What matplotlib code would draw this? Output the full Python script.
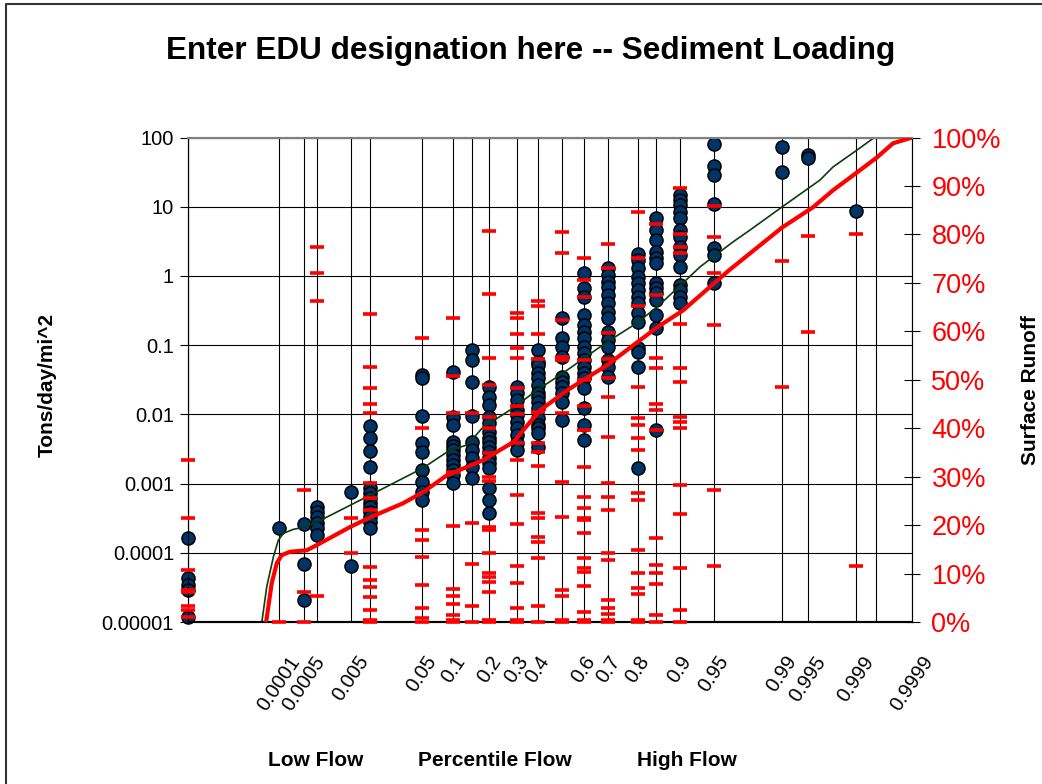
import matplotlib
matplotlib.use('Agg')
import numpy as np
import matplotlib.pyplot as plt
from matplotlib.lines import Line2D

plt.rcParams['font.family'] = ['Liberation Sans', 'DejaVu Sans']

# x positions are plotting positions (normal-score like units)
x_min = -4.156
x_max = 3.889
col_x = [-4.156, -3.144, -2.867, -2.722, -2.344, -2.133, -1.556, -1.211, -1.0, -0.811,
         -0.5, -0.267, 0.0, 0.244, 0.511, 0.844, 1.044, 1.311, 1.689, 2.444, 2.733,
         3.267, 3.489]

tick_x = [-3.144, -2.867, -2.344, -1.556, -1.211, -0.811, -0.5, -0.267, 0.244, 0.511,
          0.844, 1.311, 1.689, 2.444, 2.733, 3.267, 3.889]
tick_labels = ['0.0001', '0.0005', '0.005', '0.05', '0.1', '0.2', '0.3', '0.4', '0.6',
               '0.7', '0.8', '0.9', '0.95', '0.99', '0.995', '0.999', '0.9999']

# sediment load samples (tons/day/mi^2), one list per flow column
load = [
    [1.63e-4, 4.3e-5, 3.4e-5, 2.9e-5, 1.18e-5],
    [2.27e-4],
    [2.6e-4, 6.9e-5, 2.07e-5],
    [4.57e-4, 3.87e-4, 3.28e-4, 2.69e-4, 2.27e-4, 1.8e-4],
    [7.5e-4, 6.4e-5],
    [6.8e-3, 4.5e-3, 2.95e-3, 1.73e-3, 8.6e-4, 7.3e-4, 6.2e-4, 5.2e-4, 4.6e-4, 3.9e-4,
     3.3e-4, 2.8e-4, 2.3e-4],
    [0.037, 0.0335, 9.4e-3, 3.85e-3, 2.85e-3, 1.57e-3, 1.05e-3, 7.5e-4, 5.8e-4],
    [0.041, 9.1e-3, 7.0e-3, 3.97e-3, 3.48e-3, 3.05e-3, 2.58e-3, 2.18e-3, 1.85e-3,
     1.57e-3, 1.33e-3, 1.02e-3],
    [0.085, 0.061, 0.0293, 9.4e-3, 3.97e-3, 3.05e-3, 2.33e-3, 1.73e-3, 1.2e-3],
    [0.0248, 0.0178, 0.0136, 9.1e-3, 7.5e-3, 5.5e-3, 4.5e-3, 3.97e-3, 3.37e-3, 2.85e-3,
     2.33e-3, 1.98e-3, 1.67e-3, 8.6e-4, 5.8e-4, 3.75e-4],
    [0.0248, 0.0203, 0.0161, 0.0115, 9.8e-3, 7.7e-3, 6.3e-3, 5.0e-3, 3.85e-3, 3.05e-3],
    [0.085, 0.057, 0.0516, 0.0395, 0.0335, 0.0265, 0.0203, 0.0178, 0.0151, 0.0123,
     8.8e-3, 7.0e-3, 6.3e-3, 5.4e-3, 3.37e-3],
    [0.247, 0.127, 0.094, 0.067, 0.0347, 0.0293, 0.0248, 0.0203, 0.0151, 8.3e-3],
    [1.10, 0.668, 0.495, 0.272, 0.195, 0.155, 0.127, 0.094, 0.077, 0.061, 0.048, 0.0395,
     0.0335, 0.024, 0.0123, 7.0e-3, 4.25e-3],
    [1.30, 1.03, 0.82, 0.69, 0.53, 0.406, 0.30, 0.247, 0.155, 0.119, 0.094, 0.061, 0.048,
     0.0347],
    [2.07, 1.70, 1.30, 0.96, 0.79, 0.625, 0.495, 0.406, 0.291, 0.216, 0.091, 0.080, 0.048,
     1.67e-3],
    [6.87, 4.6, 3.3, 2.21, 1.81, 1.54, 0.79, 0.668, 0.566, 0.449, 0.272, 0.177, 5.9e-3],
    [14.8, 12.5, 10.6, 8.4, 6.87, 4.6, 3.65, 2.62, 2.0, 1.35, 0.74, 0.625, 0.495, 0.406],
    [80.5, 38.7, 28.7, 10.9, 2.53, 2.0, 0.79],
    [73.0, 31.7],
    [55.8, 50.6],
    [8.7],
    [],
]

# surface runoff (%) for the same columns
runoff = [
    [33.4, 21.4, 10.7, 6.6, 6.2, 3.3, 2.5, 1.0],
    [0.0],
    [27.2, 6.2, 0.0],
    [77.3, 72.0, 66.2, 5.4],
    [21.4, 14.2],
    [63.5, 52.6, 48.2, 44.9, 43.1, 28.7, 25.6, 23.1, 11.3, 8.7, 7.2, 5.2, 2.5, 0.4, 0.0],
    [58.6, 40.0, 19.0, 16.9, 13.4, 7.6, 2.9, 0.8, 0.0],
    [62.7, 50.7, 43.1, 30.9, 19.8, 6.8, 5.4, 3.7, 1.4, 0.4, 0.0],
    [43.1, 20.4, 12.0, 3.3, 0.0],
    [80.6, 67.6, 54.4, 48.9, 42.3, 40.0, 34.8, 29.9, 29.1, 19.6, 19.0, 14.2, 10.1, 9.3,
     8.2, 6.2, 0.4, 0.0],
    [63.7, 62.7, 59.4, 56.5, 54.4, 48.2, 44.5, 42.9, 36.9, 33.4, 26.2, 20.2, 11.5, 8.0,
     2.9, 0.4, 0.0],
    [66.2, 65.2, 59.4, 54.2, 43.3, 36.9, 35.1, 32.2, 22.5, 21.4, 17.5, 16.5, 13.2, 3.3,
     0.0],
    [80.4, 76.1, 62.3, 54.6, 54.0, 43.1, 28.9, 21.6, 6.6, 5.4, 0.4, 0.0],
    [75.1, 70.5, 67.0, 54.0, 49.9, 44.5, 39.6, 32.0, 25.8, 23.5, 21.4, 21.0, 18.4, 13.2,
     11.1, 10.3, 7.4, 2.1, 0.4, 0.0],
    [78.1, 73.0, 59.6, 54.2, 50.3, 46.4, 38.1, 28.7, 25.8, 23.1, 14.2, 12.8, 4.5, 2.9,
     1.6, 0.4, 0.0],
    [84.7, 75.1, 65.2, 48.5, 42.1, 40.6, 37.9, 35.5, 26.6, 25.2, 14.8, 10.1, 7.0, 5.8,
     0.4, 0.0],
    [82.1, 67.4, 54.4, 52.4, 44.9, 43.7, 39.6, 17.3, 11.8, 10.1, 7.8, 1.4, 0.0],
    [89.5, 80.0, 77.5, 76.1, 61.6, 52.4, 49.5, 42.3, 41.2, 40.0, 28.2, 22.3, 11.1, 2.5,
     0.0],
    [85.9, 79.4, 72.0, 61.4, 27.2, 11.5],
    [74.6, 48.5],
    [79.6, 59.8],
    [80.0, 11.5],
    [],
]

# load duration curve (green) on the load axis
curve_x = [-3.381, -3.348, -3.281, -3.207, -3.152, -3.096, -2.985, -2.874, -2.722,
           -2.133, -1.544, -1.244, -1.056, -0.878, -0.544, -0.278, 0.011, 0.5, 0.833,
           1.056, 1.344, 1.533, 1.9, 2.089, 2.444, 2.867, 3.011, 3.278, 3.556]
curve_load = [3e-6, 7.6e-6, 3.23e-5, 8.75e-5, 1.52e-4, 1.91e-4, 2.18e-4, 2.33e-4,
              2.78e-4, 6.8e-4, 1.68e-3, 3.05e-3, 3.6e-3, 6.5e-3, 0.0123, 0.0224, 0.0395,
              0.111, 0.209, 0.356, 0.79, 1.35, 3.1, 4.6, 9.9, 24.3, 37.5, 65.9, 120.0]

# cumulative surface runoff curve (red) on the percent axis
runoff_x = [-3.3, -3.226, -3.17, -3.115, -3.022, -2.837, -2.722, -2.356, -2.133, -1.767,
            -1.544, -1.278, -1.056, -0.878, -0.544, -0.244, 0.056, 0.233, 0.5, 0.833,
            1.056, 1.344, 1.689, 1.856, 2.444, 2.789, 3.011, 3.278, 3.5, 3.678, 3.889]
runoff_pct = [-1.6, 8.0, 12.1, 13.8, 14.5, 14.8, 15.9, 19.6, 21.6, 24.5, 26.8, 30.3,
              32.0, 33.4, 37.1, 43.7, 47.8, 49.9, 53.0, 57.7, 60.8, 64.3, 69.9, 72.6,
              81.4, 85.6, 89.1, 92.8, 95.9, 98.8, 100.0]

y_ticks = [1e-5, 1e-4, 1e-3, 1e-2, 1e-1, 1, 10, 100]
y_labels = ['0.00001', '0.0001', '0.001', '0.01', '0.1', '1', '10', '100']

W, H = 1042, 784
fig = plt.figure(figsize=(W / 100, H / 100), dpi=100)
ax = fig.add_axes([188 / W, 1 - 622 / H, (912 - 188) / W, (622 - 137.5) / H])
ax2 = ax.twinx()

ax.set_yscale('log')
ax.set_ylim(1e-5, 100)
ax.set_xlim(x_min, x_max)
ax2.set_ylim(0, 100)

# vertical lines at each flow column, horizontal at each decade
ax.vlines(col_x, 1e-5, 100, color='black', lw=0.8, zorder=1)
for yv in y_ticks:
    ax.axhline(yv, color='black', lw=0.8, zorder=1)

for cx, vals in zip(col_x, load):
    if vals:
        ax.plot([cx] * len(vals), vals, 'o', ms=9.4, mfc='#003366', mec='black',
                mew=1.1, clip_on=False, zorder=3)

ax.plot(curve_x, curve_load, color='#0a3d0a', lw=1.2, zorder=4)

for cx, vals in zip(col_x, runoff):
    if vals:
        ax2.plot([cx] * len(vals), vals, '_', ms=10, mew=2.6, color='red',
                 clip_on=False, zorder=5)
ax2.plot(runoff_x, runoff_pct, color='red', lw=3, zorder=4)

ax.set_yticks(y_ticks)
ax.set_yticklabels(y_labels)
ax.yaxis.set_minor_locator(matplotlib.ticker.NullLocator())
ax.tick_params(axis='y', which='major', direction='out', length=6, width=0.8,
               labelsize=14.5, pad=4)

ax.set_xticks(tick_x)
ax.set_xticklabels(tick_labels, rotation=56, ha='center', va='top', fontsize=14.5)
ax.tick_params(axis='x', length=0, pad=22)

ax2.set_yticks(np.arange(0, 101, 10))
ax2.set_yticklabels([f'{v}%' for v in range(0, 101, 10)])
ax2.tick_params(axis='y', direction='inout', length=12, width=0.8, labelsize=19.5,
                labelcolor='red', pad=8)

for a in (ax, ax2):
    a.spines['top'].set_color('#808080')
    a.spines['top'].set_linewidth(1.5)
    a.spines['bottom'].set_linewidth(1.5)
    a.spines['left'].set_linewidth(0.8)
    a.spines['right'].set_linewidth(0.8)

fig.text(531 / W, 1 - 51 / H, 'Enter EDU designation here -- Sediment Loading',
         ha='center', va='center', fontsize=22.7, fontweight='bold')
fig.text(47 / W, 1 - 385 / H, 'Tons/day/mi^2', rotation=90, ha='center', va='center',
         fontsize=15, fontweight='bold')
fig.text(1030 / W, 1 - 390 / H, 'Surface Runoff', rotation=90, ha='center',
         va='center', fontsize=15, fontweight='bold')
for label, cx in [('Low Flow', 316), ('Percentile Flow', 495), ('High Flow', 687)]:
    fig.text(cx / W, 1 - 760 / H, label, ha='center', va='center', fontsize=15,
             fontweight='bold')

# chart area frame (only top and left edges fall inside the picture)
fig.add_artist(Line2D([6 / W, 6 / W, 1.0], [0.0, 1 - 4 / H, 1 - 4 / H],
                      transform=fig.transFigure, color='#333333', lw=1.5))

fig.savefig('out.png', dpi=100)
